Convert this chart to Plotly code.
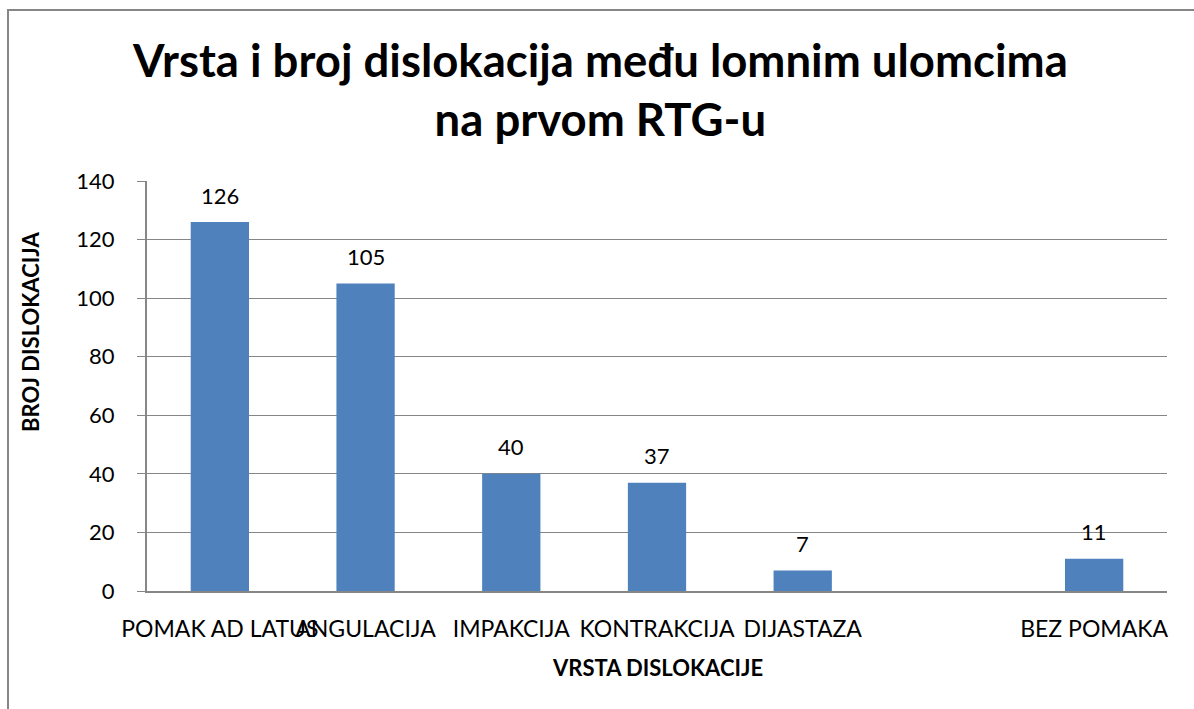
import plotly.graph_objects as go

categories = ["POMAK AD LATUS", "ANGULACIJA", "IMPAKCIJA", "KONTRAKCIJA", "DIJASTAZA", " ", "BEZ POMAKA"]
values = [126, 105, 40, 37, 7, None, 11]
y_ticks = [0, 20, 40, 60, 80, 100, 120, 140]

FONT = "Lato, Carlito, 'Open Sans', sans-serif"

fig = go.Figure(go.Bar(
    x=categories, y=values,
    marker=dict(color="#4F81BD", line=dict(width=0)),
))

annotations = []
for c, v in zip(categories, values):
    if v is None:
        continue
    annotations.append(dict(
        x=c, y=v, xref="x", yref="y", text=str(v), showarrow=False,
        yanchor="middle", yshift=27, font=dict(size=22, family=FONT, color="black"),
    ))

PW, PH = 1020, 410
annotations += [
    dict(text="<b>Vrsta i broj dislokacija među lomnim ulomcima<br>na prvom RTG-u</b>",
         xref="paper", yref="paper", x=(600 - 147) / PW, y=(591 - 89) / PH,
         xanchor="center", yanchor="middle", showarrow=False,
         font=dict(size=45.5, family=FONT, color="black")),
    dict(text="<b>VRSTA DISLOKACIJE</b>", xref="paper", yref="paper",
         x=0.5, y=(591 - 667) / PH, xanchor="center", yanchor="middle", showarrow=False,
         font=dict(size=22, family=FONT, color="black")),
    dict(text="<b>BROJ DISLOKACIJA</b>", xref="paper", yref="paper",
         x=(30 - 147) / PW, y=(591 - 332) / PH, xanchor="center", yanchor="middle",
         textangle=-90, showarrow=False,
         font=dict(size=22, family=FONT, color="black")),
]

fig.update_layout(
    width=1194, height=709,
    paper_bgcolor="white", plot_bgcolor="white",
    margin=dict(l=147, r=27, t=181, b=118, autoexpand=False),
    bargap=0.6,
    showlegend=False,
    hovermode=False,
    font=dict(family=FONT, color="black"),
    xaxis=dict(
        categoryorder="array", categoryarray=categories,
        showline=True, linecolor="#868686", linewidth=2,
        ticks="", tickangle=0, automargin=False,
        tickfont=dict(size=23, family=FONT),
        ticklabelstandoff=16,
    ),
    yaxis=dict(
        range=[0, 140], tickvals=y_ticks, automargin=False,
        showline=True, linecolor="#868686", linewidth=2,
        showgrid=True, gridcolor="#868686", gridwidth=1,
        ticks="outside", ticklen=8, tickcolor="#868686", tickwidth=1,
        tickfont=dict(size=22, family=FONT),
        ticklabelstandoff=18,
        zeroline=False,
    ),
    annotations=annotations,
    shapes=[dict(
        type="rect", xref="paper", yref="paper",
        x0=(8 - 147) / PW, x1=1.2, y0=-0.5, y1=(591 - 10) / PH,
        line=dict(color="#868686", width=2), fillcolor="rgba(0,0,0,0)", layer="below",
    )],
)

fig.write_html(
    "out.html",
    config={"displayModeBar": False, "staticPlot": True},
    post_script="document.body.style.margin='0';document.body.style.overflow='hidden';",
)
